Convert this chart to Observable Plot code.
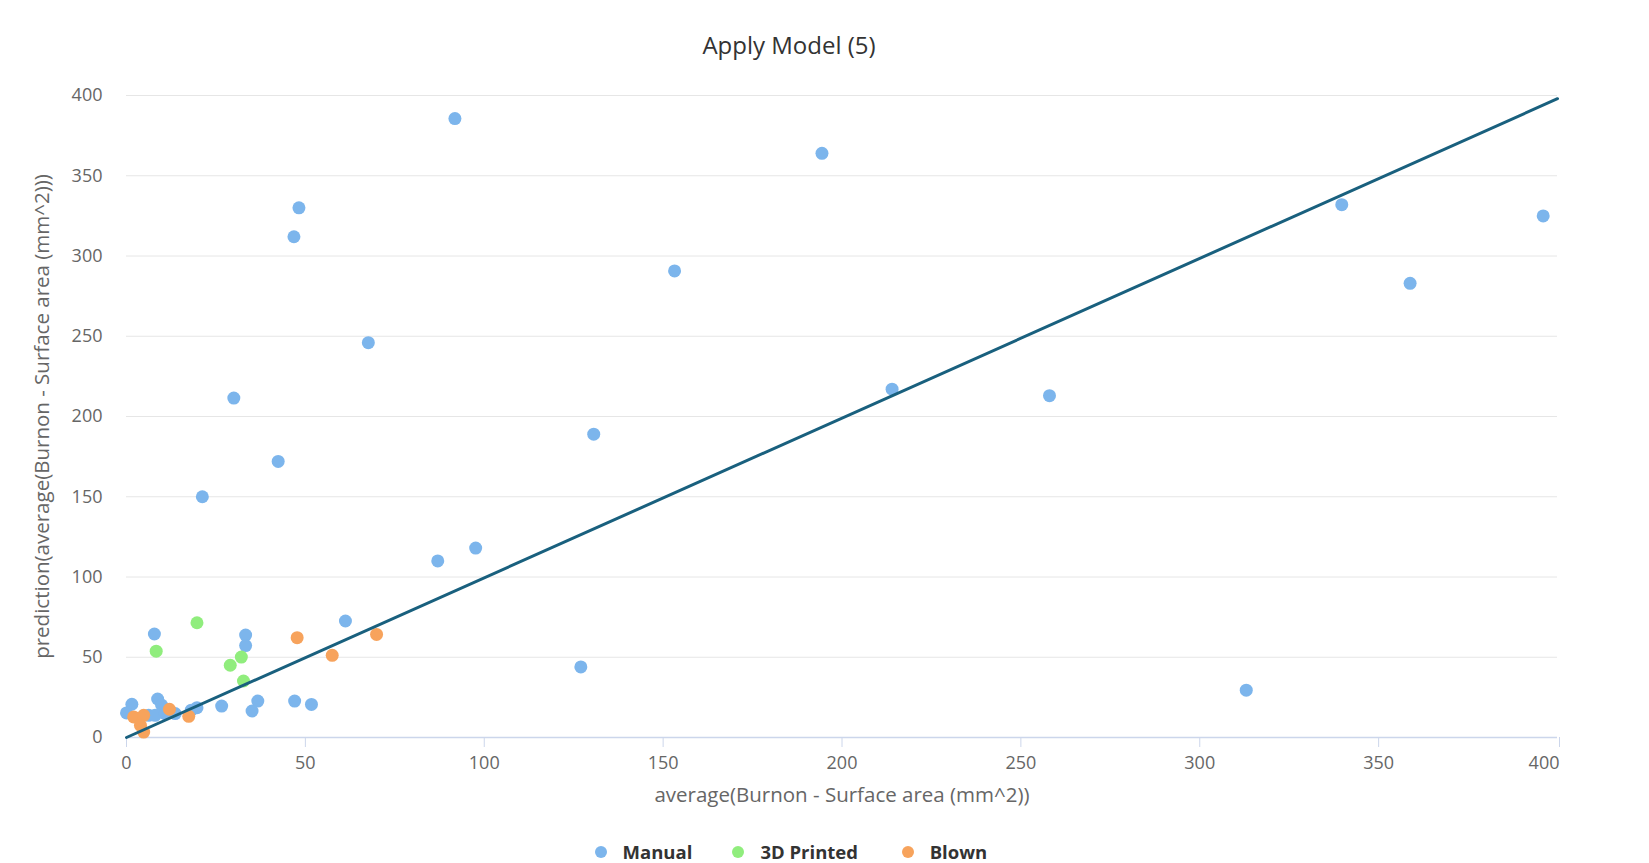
<!DOCTYPE html>
<html>
<head>
<meta charset="utf-8">
<script src="https://cdn.jsdelivr.net/npm/d3@7"></script>
<script src="https://cdn.jsdelivr.net/npm/@observablehq/plot@0.6"></script>
<style>
  body { margin: 0; background: #fff; font-family: "Open Sans", sans-serif; }
  #wrap { position: relative; width: 1649px; height: 863px; overflow: hidden; }
  #title { position: relative; height: 70px; }
  #title span { position: absolute; left: 0; width: 1578px; top: 30px; text-align: center; font-size: 24px; line-height: 30px; color: #333; }
  #legend { position: relative; height: 33px; }
  .li { position: absolute; top: 12px; font-size: 18.5px; font-weight: bold; color: #333; line-height: 20px; white-space: nowrap; }
  .mk { position: absolute; width: 12px; height: 12px; border-radius: 50%; top: 16px; }
  svg { display: block; }
</style>
</head>
<body>
<div id="wrap">
  <div id="title"><span>Apply Model (5)</span></div>
  <div id="chart"></div>
  <div id="legend"></div>
</div>
<script>
const seriesNames = ["Manual", "3D Printed", "Blown"];
const seriesColors = ["#7cb5ec", "#90ed7d", "#f7a35c"];

const manualX = [91.8, 194.4, 48.2, 46.8, 153.2, 67.6, 30, 42.4, 130.6, 21.2, 214, 258, 339.7, 358.8, 396, 87, 97.6, 127, 313, 61.2, 7.8, 33.3, 33.3, 47, 51.7, 36.7, 35.1, 26.6, 19.7, 18.1, 8.7, 9.8, 1.5, 0, 6.2, 8, 10.8, 13.6];
const manualY = [385.6, 364, 330, 312, 290.7, 246, 211.5, 172, 189, 150, 217, 213, 332, 283, 325, 110, 118, 44, 29.5, 72.6, 64.5, 63.8, 57.3, 22.7, 20.6, 22.7, 16.5, 19.6, 18.6, 17, 24, 20.2, 20.7, 15.3, 13.8, 13.8, 14.9, 14.9];

const printedX = [19.7, 8.3, 32.1, 29, 32.7];
const printedY = [71.5, 53.8, 50.1, 45, 35.2];

const blownX = [47.7, 57.5, 69.9, 17.4, 12, 2, 4.8, 3.9, 4.8];
const blownY = [62.2, 51.2, 64.2, 13.2, 17.6, 12.8, 13.8, 7.6, 3.4];

const lineX = [0, 400];
const lineY = [0, 398];

const xTicks = [0, 50, 100, 150, 200, 250, 300, 350, 400];
const yTicks = [0, 50, 100, 150, 200, 250, 300, 350, 400];

const xLabel = "average(Burnon - Surface area (mm^2))";
const yLabel = "prediction(average(Burnon - Surface area (mm^2)))";

const toPts = (xs, ys, s) => xs.map((x, i) => ({x, y: ys[i], s}));
const pts = [
  ...toPts(manualX, manualY, seriesNames[0]),
  ...toPts(printedX, printedY, seriesNames[1]),
  ...toPts(blownX, blownY, seriesNames[2])
];
const linePts = lineX.map((x, i) => ({x, y: lineY[i]}));

const chart = Plot.plot({
  width: 1649,
  height: 760,
  marginLeft: 126,
  marginRight: 92,
  marginTop: 25,
  marginBottom: 93,
  style: {fontFamily: "Open Sans, sans-serif", background: "#fff"},
  x: {domain: [0, 400]},
  y: {domain: [0, 400]},
  color: {domain: seriesNames, range: seriesColors},
  marks: [
    Plot.gridY(yTicks, {stroke: "#e6e6e6", strokeOpacity: 1, strokeWidth: 1}),
    Plot.axisY(yTicks, {tickSize: 0, tickPadding: 24, fontSize: 18, fill: "#666", label: null, letterSpacing: "1.5px"}),
    Plot.axisY({ticks: [], tickSize: 0, label: yLabel, labelAnchor: "center", labelArrow: "none", labelOffset: 92, fontSize: 20.5, fill: "#666"}),
    Plot.ruleY([0], {stroke: "#ccd6eb", strokeWidth: 1.5}),
    Plot.axisX(xTicks.slice(0, -1), {tickSize: 10, tickPadding: 9, stroke: "#ccd6eb", fontSize: 18, fill: "#666", label: null, letterSpacing: "1px"}),
    Plot.axisX([400], {tickSize: 10, tickPadding: 9, stroke: "#ccd6eb", fontSize: 18, fill: "#666", label: null, textAnchor: "end", dx: 2, letterSpacing: "1px"}),
    Plot.axisX({ticks: [], tickSize: 0, label: xLabel, labelAnchor: "center", labelArrow: "none", labelOffset: 64, fontSize: 20.5, fill: "#666"}),
    Plot.dot(pts, {x: "x", y: "y", fill: "s", r: 6.5, stroke: null}),
    Plot.line(linePts, {x: "x", y: "y", stroke: "#19607e", strokeWidth: 3})
  ]
});
document.getElementById("chart").appendChild(chart);

const legendPos = [[600.5, 622.6], [738.3, 760.4], [907.6, 929.7]];
const leg = document.getElementById("legend");
seriesNames.forEach((n, i) => {
  const m = document.createElement("div");
  m.className = "mk";
  m.style.left = (legendPos[i][0] - 6) + "px";
  m.style.background = seriesColors[i];
  leg.appendChild(m);
  const t = document.createElement("div");
  t.className = "li";
  t.style.left = legendPos[i][1] + "px";
  t.textContent = n;
  leg.appendChild(t);
});
</script>
</body>
</html>
